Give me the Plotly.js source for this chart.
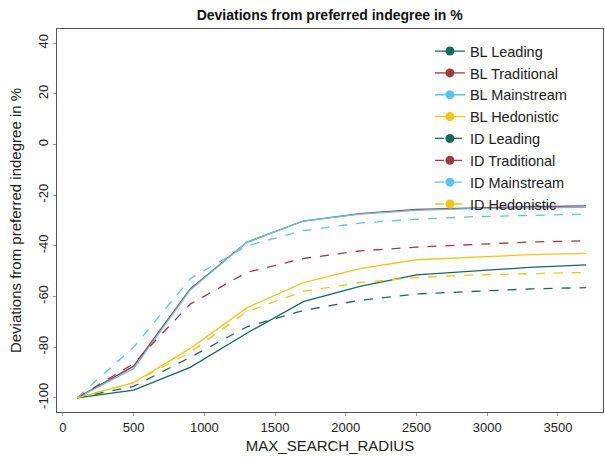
<!DOCTYPE html>
<html>
<head>
<meta charset="utf-8">
<script src="https://cdn.plot.ly/plotly-3.0.1.min.js"></script>
<style>html,body{margin:0;padding:0;background:#fff;}#chart{width:605px;height:458px;}</style>
</head>
<body>
<div id="chart"></div>
<script>
const radius = [100, 500, 900, 1300, 1700, 2100, 2500, 2900, 3300, 3700];

const blLeading     = [-100, -97, -88, -74.5, -62, -56, -51.5, -50, -48.5, -47.5];
const blTraditional = [-100, -87.5, -57, -38.6, -30.2, -27.3, -25.6, -25, -24.5, -24.2];
const blMainstream  = [-100, -88.4, -57.4, -38.6, -30.2, -27.5, -26, -25.3, -25, -24.8];
const blHedonistic  = [-100, -94, -80.5, -64.5, -54.5, -49, -45.5, -44.5, -43.5, -43];
const idLeading     = [-100, -95.5, -84, -72, -65.5, -61.5, -59, -58, -57, -56.5];
const idTraditional = [-100, -86.5, -63, -50.5, -45, -42, -40.5, -39.5, -38.5, -38];
const idMainstream  = [-100, -80, -53, -40, -34, -31, -29.5, -28.5, -28, -27.5];
const idHedonistic  = [-100, -94, -82, -66, -58, -54.5, -52.5, -51.5, -51, -50.5];

const seriesNames = ["BL Leading", "BL Traditional", "BL Mainstream", "BL Hedonistic",
                     "ID Leading", "ID Traditional", "ID Mainstream", "ID Hedonistic"];
const seriesValues = [blLeading, blTraditional, blMainstream, blHedonistic,
                      idLeading, idTraditional, idMainstream, idHedonistic];
const xTicks = [0, 500, 1000, 1500, 2000, 2500, 3000, 3500];
const yTicks = [-100, -80, -60, -40, -20, 0, 20, 40];

const colors = ["#17695f", "#a3393f", "#5cc3ef", "#f6c416"];

const traces = [];
// drawn lines (no legend)
seriesValues.forEach((vals, i) => {
  traces.push({
    x: radius, y: vals, type: "scatter", mode: "lines",
    line: {color: colors[i % 4], width: 1.3, dash: i < 4 ? "solid" : "dash"},
    showlegend: false, hoverinfo: "skip"
  });
});
// legend entries
seriesNames.forEach((name, i) => {
  traces.push({
    x: [null], y: [null], type: "scatter", mode: "lines+markers", name: name,
    line: {color: colors[i % 4], width: 1.3, dash: i < 4 ? "solid" : "dash"},
    marker: {color: colors[i % 4], size: 9}
  });
});

const font = "Liberation Sans, Arial, sans-serif";
const layout = {
  width: 605, height: 458,
  margin: {l: 57, r: 2, t: 29, b: 46},
  paper_bgcolor: "#fff", plot_bgcolor: "#fff",
  font: {family: font, color: "#222", size: 13},
  title: {text: "<b>Deviations from preferred indegree in %</b>", font: {size: 14, family: font, color: "#111"},
          x: 0.545, xanchor: "center", y: 0.968, yanchor: "middle"},
  xaxis: {
    range: [-42, 3819], tickvals: xTicks, ticktext: xTicks.map(String),
    showgrid: false, zeroline: false, showline: true, mirror: true,
    linecolor: "#555", linewidth: 1.2, ticks: "outside", ticklen: 3, tickcolor: "#999",
    tickfont: {size: 13, color: "#222"},
    title: {text: "MAX_SEARCH_RADIUS", font: {size: 15, color: "#222"}, standoff: 6}
  },
  yaxis: {
    range: [-105.6, 45.6], tickvals: yTicks, ticktext: yTicks.map(String), tickangle: -90,
    showgrid: false, zeroline: false, showline: true, mirror: true,
    linecolor: "#555", linewidth: 1.2, ticks: "outside", ticklen: 3, tickcolor: "#999",
    tickfont: {size: 13, color: "#222"},
    title: {text: "Deviations from preferred indegree in %", font: {size: 15, color: "#222"}, standoff: 10}
  },
  legend: {
    x: 0.683, y: 0.984, xanchor: "left", yanchor: "top",
    bgcolor: "rgba(0,0,0,0)", borderwidth: 0,
    font: {size: 14.5, family: font, color: "#222"},
    tracegroupgap: 0, itemwidth: 30
  },
  showlegend: true
};

Plotly.newPlot("chart", traces, layout, {displayModeBar: false, staticPlot: true});
</script>
</body>
</html>
